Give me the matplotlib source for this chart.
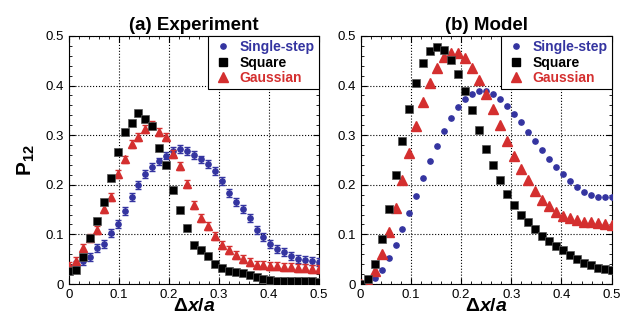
import matplotlib
matplotlib.use("Agg")
import matplotlib.pyplot as plt
from matplotlib.ticker import MultipleLocator
from matplotlib.lines import Line2D

plt.rcParams['font.family'] = ['Liberation Sans', 'DejaVu Sans']
plt.rcParams['mathtext.fontset'] = 'custom'
plt.rcParams['mathtext.rm'] = 'Liberation Sans:bold'
plt.rcParams['mathtext.it'] = 'Liberation Sans:bold:italic'
plt.rcParams['mathtext.bf'] = 'Liberation Sans:bold'

# x positions: 37 points from 0 to 0.5
dx = [i / 72 for i in range(37)]

# (a) Experiment
exp_single = [0.030, 0.039, 0.047, 0.054, 0.072, 0.080, 0.103, 0.121, 0.148, 0.176,
              0.199, 0.221, 0.235, 0.247, 0.259, 0.269, 0.272, 0.269, 0.260, 0.251,
              0.241, 0.227, 0.208, 0.184, 0.166, 0.151, 0.133, 0.109, 0.094, 0.081,
              0.070, 0.064, 0.056, 0.051, 0.049, 0.046, 0.044]
exp_square = [0.027, 0.029, 0.054, 0.093, 0.128, 0.166, 0.214, 0.267, 0.306, 0.325,
              0.344, 0.332, 0.318, 0.275, 0.240, 0.190, 0.149, 0.113, 0.079, 0.068,
              0.057, 0.041, 0.032, 0.027, 0.025, 0.022, 0.018, 0.015, 0.011, 0.009,
              0.007, 0.007, 0.006, 0.006, 0.006, 0.006, 0.005]
exp_gauss = [0.036, 0.046, 0.072, 0.092, 0.109, 0.151, 0.176, 0.222, 0.251, 0.282,
             0.297, 0.312, 0.320, 0.306, 0.296, 0.263, 0.238, 0.201, 0.160, 0.133,
             0.116, 0.096, 0.079, 0.068, 0.058, 0.050, 0.044, 0.039, 0.038, 0.036,
             0.036, 0.034, 0.034, 0.032, 0.032, 0.031, 0.031]
err_single = 0.008
err_square = 0.006
err_gauss = 0.008

# (b) Model
mod_single = [0.000, 0.005, 0.012, 0.029, 0.052, 0.079, 0.110, 0.144, 0.178, 0.214,
              0.247, 0.279, 0.309, 0.334, 0.356, 0.372, 0.382, 0.390, 0.390, 0.382,
              0.372, 0.358, 0.342, 0.326, 0.307, 0.288, 0.270, 0.252, 0.235, 0.221,
              0.207, 0.195, 0.186, 0.180, 0.176, 0.175, 0.175]
mod_square = [0.000, 0.010, 0.040, 0.090, 0.152, 0.219, 0.289, 0.352, 0.406, 0.446,
              0.469, 0.478, 0.471, 0.451, 0.423, 0.389, 0.350, 0.310, 0.273, 0.239,
              0.209, 0.182, 0.159, 0.140, 0.124, 0.110, 0.097, 0.087, 0.077, 0.068,
              0.059, 0.051, 0.043, 0.038, 0.033, 0.030, 0.029]
mod_gauss = [0.000, 0.005, 0.027, 0.060, 0.104, 0.154, 0.210, 0.265, 0.319, 0.366,
             0.406, 0.436, 0.457, 0.465, 0.465, 0.455, 0.436, 0.411, 0.382, 0.352,
             0.321, 0.289, 0.259, 0.232, 0.209, 0.188, 0.170, 0.157, 0.146, 0.138,
             0.133, 0.129, 0.126, 0.124, 0.122, 0.120, 0.119]

ticks = [0, 0.1, 0.2, 0.3, 0.4, 0.5]
tick_labels = ['0', '0.1', '0.2', '0.3', '0.4', '0.5']
names = ['Single-step', 'Square', 'Gaussian']

blue = '#3434a0'
red = '#d42f2f'
green = '#1f9050'

fig = plt.figure(figsize=(6.29, 3.23), dpi=100)
ax1 = fig.add_axes([0.1097, 0.1207, 0.3975, 0.768])
ax2 = fig.add_axes([0.5734, 0.1207, 0.3990, 0.768])

ax1.errorbar(dx, exp_single, yerr=err_single, fmt='o', color=blue, ms=3.8,
             ecolor=blue, elinewidth=0.8, capsize=2, zorder=3)
ax1.errorbar(dx, exp_gauss, yerr=err_gauss, fmt='^', color=red, ms=6,
             ecolor=red, elinewidth=0.8, capsize=2, zorder=4)
ax1.errorbar(dx, exp_square, yerr=err_square, fmt='s', color='black', ms=5.5,
             mec='#555555', mew=0.5, ecolor=green, elinewidth=0.8, capsize=2, zorder=5)

ax2.plot(dx, mod_single, 'o', color=blue, ms=3.8, zorder=3)
ax2.plot(dx, mod_gauss, '^', color=red, ms=6.5, zorder=4)
ax2.plot(dx, mod_square, 's', color='black', ms=6, mec='#555555', mew=0.5, zorder=5)

handles = [Line2D([], [], ls='none', marker='o', color=blue, ms=3.8),
           Line2D([], [], ls='none', marker='s', color='black', ms=5.5),
           Line2D([], [], ls='none', marker='^', color=red, ms=6.5)]

for ax, title in [(ax1, '(a) Experiment'), (ax2, '(b) Model')]:
    ax.set_xlim(0, 0.5)
    ax.set_ylim(0, 0.5)
    ax.set_xticks(ticks)
    ax.set_xticklabels(tick_labels)
    ax.set_yticks(ticks)
    ax.set_yticklabels(tick_labels)
    ax.xaxis.set_minor_locator(MultipleLocator(0.02))
    ax.yaxis.set_minor_locator(MultipleLocator(0.02))
    ax.tick_params(which='both', direction='in', top=True, right=True, labelsize=9.5)
    ax.tick_params(which='major', length=4)
    ax.tick_params(which='minor', length=2)
    ax.grid(True, which='major', linestyle=':', color='black', linewidth=0.8)
    ax.set_title(title, fontsize=13.5, fontweight='bold', pad=4)
    ax.set_xlabel(r'$\Delta\mathit{x/a}$', fontsize=14, labelpad=-2)
    for s in ax.spines.values():
        s.set_linewidth(0.8)

    leg = ax.legend(handles, names, loc='upper right',
                    fancybox=False, edgecolor='black', framealpha=1,
                    prop={'weight': 'bold', 'size': 10}, handletextpad=0.4,
                    borderpad=0.3, labelspacing=0.1, handlelength=1.6,
                    borderaxespad=0)
    leg.get_frame().set_linewidth(0.8)
    for t, c in zip(leg.get_texts(), [blue, 'black', red]):
        t.set_color(c)

ax1.set_ylabel(r'P$_{\mathbf{12}}$', fontsize=15, fontweight='bold', labelpad=6)

fig.savefig('out.png', dpi=100)
